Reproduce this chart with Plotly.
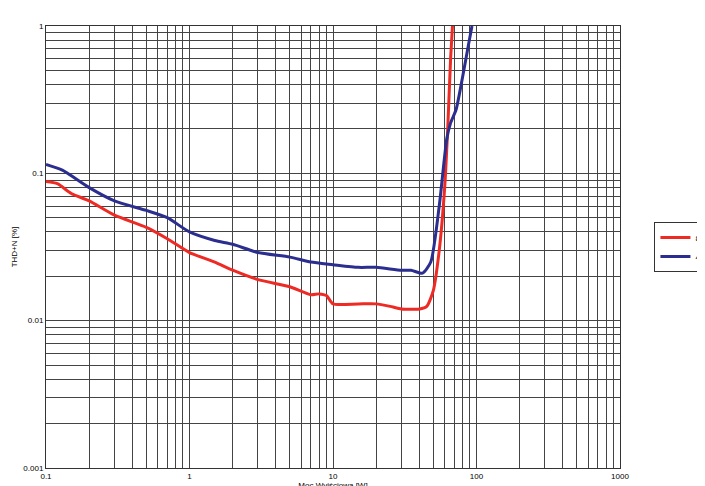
import plotly.graph_objects as go

x_8 = [0.1, 0.12, 0.15, 0.2, 0.3, 0.5, 0.7, 1, 1.5, 2, 3, 5, 7, 8, 9, 10, 15, 20, 25, 30, 40, 45, 50, 55, 60, 63, 66, 68]
y_8 = [0.088, 0.085, 0.073, 0.065, 0.052, 0.043, 0.036, 0.029, 0.025, 0.022, 0.019, 0.017, 0.015, 0.0152, 0.0148, 0.013, 0.013, 0.013, 0.0125, 0.012, 0.012, 0.0125, 0.016, 0.03, 0.08, 0.2, 0.6, 1.0]
x_4 = [0.1, 0.13, 0.2, 0.3, 0.5, 0.7, 1, 1.5, 2, 3, 5, 7, 10, 15, 20, 30, 35, 42, 48, 55, 62, 66, 72, 80, 88, 93]
y_4 = [0.115, 0.105, 0.08, 0.065, 0.056, 0.05, 0.04, 0.035, 0.033, 0.029, 0.027, 0.025, 0.024, 0.023, 0.023, 0.022, 0.022, 0.021, 0.025, 0.06, 0.17, 0.22, 0.27, 0.45, 0.75, 1.0]
xticks = [0.1, 1, 10, 100, 1000]
yticks = [0.001, 0.01, 0.1, 1]

def grid_vals(decades):
    vals, texts = [], []
    for i, d in enumerate(decades):
        vals.append(d); texts.append(str(d))
        if i < len(decades) - 1:
            for m in range(2, 10):
                vals.append(round(d * m, 6)); texts.append("")
    return vals, texts

xv, xt = grid_vals(xticks)
yv, yt = grid_vals(yticks)

fig = go.Figure()
fig.add_trace(go.Scatter(x=x_8, y=y_8, name="8Ohm", mode="lines", line=dict(color="#ee2a24", width=3, shape="spline", smoothing=0.6)))
fig.add_trace(go.Scatter(x=x_4, y=y_4, name="4Ohm", mode="lines", line=dict(color="#2b2e8f", width=3, shape="spline", smoothing=0.6)))
ax = dict(type="log", showgrid=True, gridcolor="#444", gridwidth=1, showline=True, linecolor="#333", mirror=True,
          tickfont=dict(size=8, family="Arial", color="black"), ticks="", zeroline=False)
fig.update_xaxes(**ax, range=[-1, 3], tickvals=xv, ticktext=xt,
                 title=dict(text="Moc Wyjściowa [W]", font=dict(size=8, family="Arial", color="black"), standoff=2))
fig.update_yaxes(**ax, range=[-3, 0], tickvals=yv, ticktext=yt,
                 title=dict(text="THD+N [%]", font=dict(size=8, family="Arial", color="black"), standoff=4))
fig.update_layout(width=705, height=486, margin=dict(l=38, r=93, t=18, b=26, autoexpand=False),
                  plot_bgcolor="white", paper_bgcolor="white",
                  legend=dict(x=1.06, y=0.5, xanchor="left", yanchor="middle", bordercolor="#333", borderwidth=1,
                              itemwidth=30, tracegroupgap=0, font=dict(size=8, family="Arial", color="black")))
fig.write_html("out.html")
